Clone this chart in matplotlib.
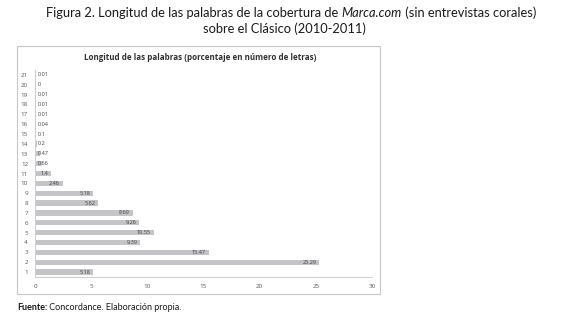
import matplotlib
matplotlib.use("Agg")
import matplotlib.pyplot as plt
from matplotlib.patches import Rectangle

# longitud de palabra (letras) y porcentaje
letras = list(range(1, 22))
porcentaje = [5.18, 25.29, 15.47, 9.39, 10.55, 9.26, 8.69, 5.62, 5.18, 2.46,
              1.4, 0.66, 0.47, 0.2, 0.1, 0.04, 0.01, 0.01, 0.01, 0, 0.01]
etiquetas = ['5.18', '25.29', '15.47', '9.39', '10.55', '9.26', '8.69', '5.62',
             '5.18', '2.46', '1.4', '0.66', '0.47', '0.2', '0.1', '0.04', '0.01',
             '0.01', '0.01', '0', '0.01']
xticks = [0, 5, 10, 15, 20, 25, 30]

plt.rcParams['font.family'] = ['Lato', 'DejaVu Sans']
small = ['Open Sans', 'DejaVu Sans']
gray_txt = '#595959'

fig = plt.figure(figsize=(5.8, 3.19), dpi=100)
W, H = 580, 319

# chart frame
fig.patches.append(Rectangle((17 / W, 1 - 294 / H), 363 / W, 248 / H,
                             transform=fig.transFigure, fill=False,
                             edgecolor='#c8c8c8', linewidth=0.8))

ax = fig.add_axes([35 / W, 1 - 277 / H, 337 / W, 207 / H])
ax.barh(letras, porcentaje, height=0.55, color='#c3c3c8')
ax.set_xlim(0, 30)
ax.set_ylim(0.5, 21.5)
ax.set_xticks(xticks)
ax.set_yticks(letras)
ax.tick_params(length=0, labelsize=4.5, labelcolor=gray_txt, pad=5)
for lab in ax.get_xticklabels() + ax.get_yticklabels():
    lab.set_family(small)
for s in ['top', 'right']:
    ax.spines[s].set_visible(False)
for s in ['left', 'bottom']:
    ax.spines[s].set_color('#d0d0d0')
    ax.spines[s].set_linewidth(0.8)

# data labels: inside end, or at the base when the bar is too short
for y, v, t in zip(letras, porcentaje, etiquetas):
    tw = 0.28 * len(t) + 0.3
    if v > tw:
        ax.text(v - 0.25, y, t, ha='right', va='center', fontsize=4,
                color='#404040', family=small)
    else:
        ax.text(0.25, y, t, ha='left', va='center', fontsize=4,
                color='#404040', family=small)

fig.canvas.draw()
r = fig.canvas.get_renderer()


def fit(txt, target):
    # shrink/grow font so the text spans target pixels
    w = txt.get_window_extent(r).width
    txt.set_fontsize(txt.get_fontsize() * target / w)


inner = fig.text(200 / W, 1 - 58 / H, 'Longitud de las palabras (porcentaje en número de letras)',
                 ha='center', va='center', fontsize=7, fontweight='bold',
                 color='#303030', family=small)
fit(inner, 230)

# main title with italic part
parts = [('Figura 2. Longitud de las palabras de la cobertura de ', 'normal'),
         ('Marca.com', 'italic'),
         (' (sin entrevistas corales)', 'normal')]
objs = [fig.text(0, 1 - 13 / H, p, fontsize=10.5, style=st, va='center',
                 color='#1a1a1a') for p, st in parts]
tot = sum(o.get_window_extent(r).width for o in objs)
fs = 10.5 * 498 / tot
for o in objs:
    o.set_fontsize(fs)
widths = [o.get_window_extent(r).width for o in objs]
x0 = 291 - sum(widths) / 2
for o, w in zip(objs, widths):
    o.set_x(x0 / W)
    x0 += w
fig.text(284 / W, 1 - 29 / H, 'sobre el Clásico (2010-2011)', ha='center', va='center',
         fontsize=fs, color='#1a1a1a')

# footer
f1 = fig.text(17 / W, 1 - 308 / H, 'Fuente:', fontsize=7.5, fontweight='bold',
              va='center', color='#1a1a1a')
f2 = fig.text(0, 1 - 308 / H, ' Concordance. Elaboración propia.', fontsize=7.5,
              va='center', color='#1a1a1a')
tot = f1.get_window_extent(r).width + f2.get_window_extent(r).width
fs2 = 7.5 * 166 / tot
f1.set_fontsize(fs2)
f2.set_fontsize(fs2)
f2.set_x((17 + f1.get_window_extent(r).width) / W)

fig.savefig('out.png', dpi=100)
